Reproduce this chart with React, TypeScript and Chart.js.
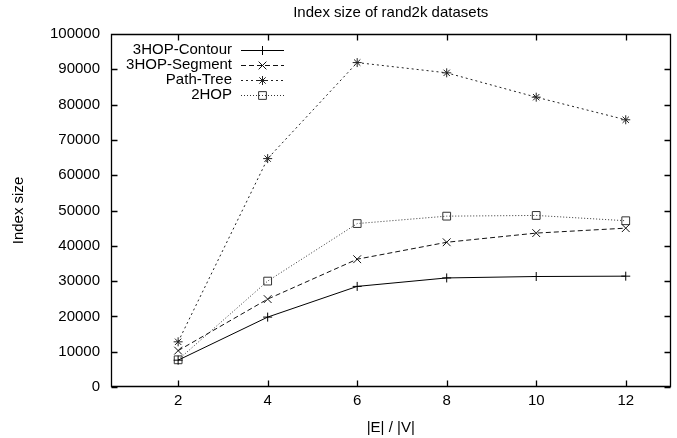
import React, { useEffect, useRef } from 'react';
import { Chart, registerables } from 'chart.js';

Chart.register(...registerables);

const chartTitle = 'Index size of rand2k datasets';
const xAxisTitle = '|E| / |V|';
const yAxisTitle = 'Index size';

const xValues = [2, 4, 6, 8, 10, 12];
const xTicks = [2, 4, 6, 8, 10, 12];
const yTicks = [0, 10000, 20000, 30000, 40000, 50000, 60000, 70000, 80000, 90000, 100000];

const seriesNames = ['3HOP-Contour', '3HOP-Segment', 'Path-Tree', '2HOP'];
const contourValues = [7600, 19800, 28500, 30900, 31300, 31400];
const segmentValues = [10300, 24900, 36200, 41000, 43600, 45000];
const pathTreeValues = [12800, 64700, 91900, 89000, 82100, 75700];
const twoHopValues = [7700, 30000, 46300, 48400, 48600, 47100];

const FONT = '"Liberation Sans", Arial, Helvetica, sans-serif';
const FONT_SIZE = 15;

type MarkerStyle = 'cross' | 'crossRot' | 'star' | 'rect';

function drawMarker(ctx: CanvasRenderingContext2D, style: MarkerStyle, x: number, y: number, r: number) {
  ctx.beginPath();
  if (style === 'cross' || style === 'star') {
    ctx.moveTo(x - r, y);
    ctx.lineTo(x + r, y);
    ctx.moveTo(x, y - r);
    ctx.lineTo(x, y + r);
  }
  if (style === 'crossRot' || style === 'star') {
    const d = r * Math.SQRT1_2;
    ctx.moveTo(x - d, y - d);
    ctx.lineTo(x + d, y + d);
    ctx.moveTo(x + d, y - d);
    ctx.lineTo(x - d, y + d);
  }
  if (style === 'rect') {
    const s = r * Math.SQRT1_2;
    ctx.rect(x - s, y - s, 2 * s, 2 * s);
  }
  ctx.stroke();
}

const framePlugin = {
  id: 'gnuFrame',
  afterDatasetsDraw(chart: any) {
    const { ctx, chartArea: a, scales } = chart;
    const L = Math.round(a.left) + 0.5;
    const R = Math.round(a.right) - 0.5;
    const T = Math.round(a.top) + 0.5;
    const B = Math.round(a.bottom) - 0.5;
    const tl = 6;
    ctx.save();
    ctx.strokeStyle = '#000';
    ctx.lineWidth = 1.3;
    ctx.setLineDash([]);
    ctx.beginPath();
    ctx.rect(L, T, R - L, B - T);
    for (const v of xTicks) {
      const px = Math.round(scales.x.getPixelForValue(v)) + 0.5;
      ctx.moveTo(px, B);
      ctx.lineTo(px, B - tl);
      ctx.moveTo(px, T);
      ctx.lineTo(px, T + tl);
    }
    for (const v of yTicks) {
      const py = Math.round(scales.y.getPixelForValue(v)) + 0.5;
      ctx.moveTo(L, py);
      ctx.lineTo(L + tl, py);
      ctx.moveTo(R, py);
      ctx.lineTo(R - tl, py);
    }
    ctx.stroke();
    ctx.restore();
  },
  afterDraw(chart: any) {
    const { ctx, chartArea: a } = chart;
    ctx.save();
    ctx.fillStyle = '#000';
    ctx.font = `${FONT_SIZE}px ${FONT}`;
    ctx.textAlign = 'center';
    ctx.textBaseline = 'middle';
    ctx.fillText(chartTitle, (a.left + a.right) / 2, 13);

    // key (legend), gnuplot style: text right-aligned, then sample
    const textRight = 232;
    const sampleL = 241;
    const sampleR = 284;
    chart.data.datasets.forEach((ds: any, i: number) => {
      const y = 50 + i * 15;
      ctx.setLineDash([]);
      ctx.fillStyle = '#000';
      ctx.textAlign = 'right';
      ctx.fillText(ds.label, textRight, y);
      ctx.strokeStyle = ds.borderColor;
      ctx.lineWidth = 1;
      ctx.setLineDash(ds.borderDash || []);
      ctx.beginPath();
      ctx.moveTo(sampleL, y + 0.5);
      ctx.lineTo(sampleR, y + 0.5);
      ctx.stroke();
      ctx.setLineDash([]);
      drawMarker(ctx, ds.pointStyle, (sampleL + sampleR) / 2, y + 0.5, ds.pointRadius);
    });
    ctx.restore();
  },
};

function makeData(values: number[]) {
  return xValues.map((x, i) => ({ x, y: values[i] }));
}

export default function App() {
  const canvasRef = useRef<HTMLCanvasElement | null>(null);

  useEffect(() => {
    const canvas = canvasRef.current;
    if (!canvas) return;
    const common = {
      borderWidth: 1,
      pointBorderWidth: 1,
      pointBackgroundColor: 'rgba(0,0,0,0)',
      tension: 0,
      fill: false,
    };
    const chart = new Chart(canvas, {
      type: 'line',
      data: {
        datasets: [
          {
            ...common,
            label: seriesNames[0],
            data: makeData(contourValues),
            borderColor: '#000',
            pointBorderColor: '#000',
            borderDash: [],
            pointStyle: 'cross',
            pointRadius: 4.5,
          },
          {
            ...common,
            label: seriesNames[1],
            data: makeData(segmentValues),
            borderColor: '#111',
            pointBorderColor: '#111',
            borderDash: [5, 3],
            pointStyle: 'crossRot',
            pointRadius: 5.5,
          },
          {
            ...common,
            label: seriesNames[2],
            data: makeData(pathTreeValues),
            borderColor: '#222',
            pointBorderColor: '#222',
            borderDash: [2, 3],
            pointStyle: 'star',
            pointRadius: 4.5,
          },
          {
            ...common,
            label: seriesNames[3],
            data: makeData(twoHopValues),
            borderColor: '#333',
            pointBorderColor: '#333',
            borderDash: [1, 2],
            pointStyle: 'rect',
            pointRadius: 5.5,
          },
        ] as any,
      },
      options: {
        responsive: false,
        animation: false,
        events: [],
        layout: { padding: { left: 0, right: 2, top: 34, bottom: 0 } },
        plugins: {
          legend: { display: false },
          title: { display: false },
          tooltip: { enabled: false },
        },
        scales: {
          x: {
            type: 'linear',
            min: 0.5,
            max: 13,
            afterFit: (scale: any) => {
              scale.height = 51;
            },
            afterBuildTicks: (scale: any) => {
              scale.ticks = xTicks.map((v) => ({ value: v }));
            },
            grid: { display: false, drawTicks: false },
            border: { display: false },
            ticks: {
              padding: 5,
              color: '#000',
              font: { family: FONT, size: FONT_SIZE },
              maxRotation: 0,
              callback: (v: any) => String(v),
            },
            title: {
              display: true,
              text: xAxisTitle,
              color: '#000',
              font: { family: FONT, size: FONT_SIZE },
              padding: { top: 0, bottom: 1 },
            },
          },
          y: {
            type: 'linear',
            min: 0,
            max: 100000,
            afterFit: (scale: any) => {
              scale.width = 111;
            },
            afterBuildTicks: (scale: any) => {
              scale.ticks = yTicks.map((v) => ({ value: v }));
            },
            grid: { display: false, drawTicks: false },
            border: { display: false },
            ticks: {
              padding: 11,
              color: '#000',
              font: { family: FONT, size: FONT_SIZE },
              callback: (v: any) => String(v),
            },
            title: {
              display: true,
              text: yAxisTitle,
              color: '#000',
              font: { family: FONT, size: FONT_SIZE },
              padding: { top: 10, bottom: 0 },
            },
          },
        },
      } as any,
      plugins: [framePlugin as any],
    });
    return () => chart.destroy();
  }, []);

  return (
    <div style={{ position: 'absolute', left: 0, top: 0, width: 677, height: 438, background: '#fff' }}>
      <canvas ref={canvasRef} width={677} height={438} style={{ display: 'block', width: 677, height: 438 }} />
    </div>
  );
}
